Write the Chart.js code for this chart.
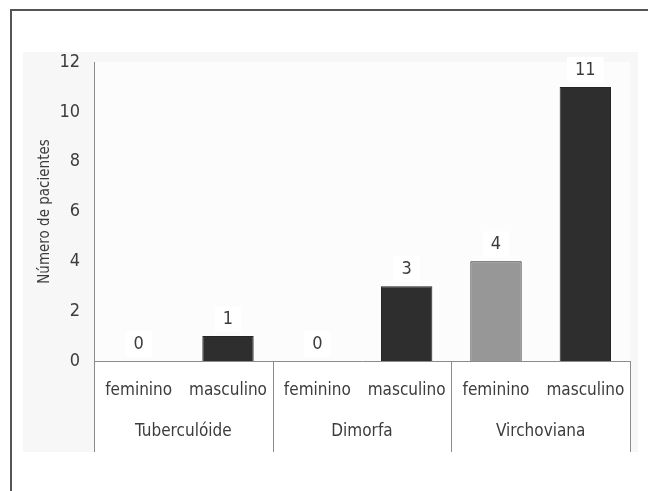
<!DOCTYPE html>
<html>
<head>
<meta charset="utf-8">
<script src="https://cdn.jsdelivr.net/npm/chart.js@4.4.1/dist/chart.umd.min.js"></script>
<style>
  html, body { margin: 0; padding: 0; background: #fff; }
  #wrap { width: 648px; height: 491px; position: relative; }
</style>
</head>
<body>
<div id="wrap"><canvas id="chart"></canvas></div>
<script>
// data
const groups = ['Tuberculóide', 'Dimorfa', 'Virchoviana'];
const sexes = ['feminino', 'masculino', 'feminino', 'masculino', 'feminino', 'masculino'];
const patients = [0, 1, 0, 3, 4, 11];
const barColors = ['#2e2e2e', '#2e2e2e', '#2e2e2e', '#2e2e2e', '#979797', '#2e2e2e'];
const yTicks = [0, 2, 4, 6, 8, 10, 12];

const FONT = '"Liberation Sans Narrow", "DejaVu Sans Condensed", "Liberation Sans", sans-serif';
const TEXT = '#3c3c3c';
const LINE = '#8c8c8c';

// frame, faint backdrop and white label band
const backdrop = {
  id: 'backdrop',
  beforeDraw(chart) {
    const { ctx, chartArea } = chart;
    const x2 = chart.scales.x2;
    ctx.save();
    ctx.fillStyle = '#f7f7f7';
    ctx.fillRect(23, 52, 615, x2.bottom - 52);
    ctx.fillStyle = '#fcfcfc';
    ctx.fillRect(chartArea.left, chartArea.top, chartArea.right - chartArea.left, chartArea.bottom - chartArea.top);
    ctx.fillStyle = '#ffffff';
    ctx.fillRect(chartArea.left, chartArea.bottom, chartArea.right - chartArea.left, x2.bottom - chartArea.bottom);
    ctx.strokeStyle = '#555';
    ctx.lineWidth = 2;
    ctx.beginPath();
    ctx.moveTo(11, 491);
    ctx.lineTo(11, 10);
    ctx.lineTo(648, 10);
    ctx.stroke();
    ctx.restore();
  }
};

// group separators below the axis
const separators = {
  id: 'separators',
  afterDraw(chart) {
    const { ctx } = chart;
    const x = chart.scales.x, x2 = chart.scales.x2;
    ctx.save();
    ctx.strokeStyle = LINE;
    ctx.lineWidth = 1;
    for (let i = 0; i <= groups.length; i++) {
      const px = Math.round(x2.getPixelForValue(i - 0.5)) + 0.5;
      ctx.beginPath();
      ctx.moveTo(px, x.top);
      ctx.lineTo(px, x2.bottom);
      ctx.stroke();
    }
    ctx.restore();
  }
};

// value labels above bars
const valueLabels = {
  id: 'valueLabels',
  afterDatasetsDraw(chart) {
    const { ctx } = chart;
    const meta = chart.getDatasetMeta(0);
    ctx.save();
    ctx.font = '18px ' + FONT;
    ctx.textAlign = 'center';
    ctx.textBaseline = 'middle';
    meta.data.forEach((bar, i) => {
      const txt = String(patients[i]);
      const y = bar.y - 17;
      const w = ctx.measureText(txt).width + 16;
      ctx.fillStyle = '#ffffff';
      ctx.fillRect(bar.x - w / 2, y - 13, w, 26);
      ctx.fillStyle = TEXT;
      ctx.fillText(txt, bar.x, y);
    });
    ctx.restore();
  }
};

new Chart(document.getElementById('chart'), {
  type: 'bar',
  data: {
    labels: sexes,
    datasets: [{
      data: patients,
      backgroundColor: barColors,
      borderColor: '#262626',
      borderWidth: 1,
      categoryPercentage: 1,
      barPercentage: 0.575
    }]
  },
  options: {
    responsive: true,
    maintainAspectRatio: false,
    animation: false,
    layout: { padding: { left: 0, right: 18, top: 62, bottom: 39 } },
    plugins: { legend: { display: false }, tooltip: { enabled: false } },
    scales: {
      y: {
        min: 0,
        max: 12,
        afterBuildTicks: s => { s.ticks = yTicks.map(v => ({ value: v })); },
        afterFit: s => { s.width = 94; },
        grid: { display: false, drawTicks: false },
        border: { display: true, color: LINE, width: 1 },
        ticks: { padding: 14, color: TEXT, font: { family: FONT, size: 18 } },
        title: {
          display: true,
          text: 'Número de pacientes',
          color: TEXT,
          font: { family: FONT, size: 15 },
          padding: { top: 36, bottom: 0 }
        }
      },
      x: {
        weight: 0,
        afterFit: s => { s.height = 50; },
        grid: { display: false, drawTicks: false },
        border: { display: true, color: LINE, width: 1 },
        ticks: { padding: 19, color: TEXT, maxRotation: 0, autoSkip: false, font: { family: FONT, size: 17 } }
      },
      x2: {
        type: 'category',
        position: 'bottom',
        weight: 1,
        labels: groups,
        offset: true,
        afterFit: s => { s.height = 41; },
        grid: { display: false, drawTicks: false },
        border: { display: false },
        ticks: { padding: 10, color: TEXT, maxRotation: 0, autoSkip: false, font: { family: FONT, size: 17 } }
      }
    }
  },
  plugins: [backdrop, separators, valueLabels]
});
</script>
</body>
</html>
